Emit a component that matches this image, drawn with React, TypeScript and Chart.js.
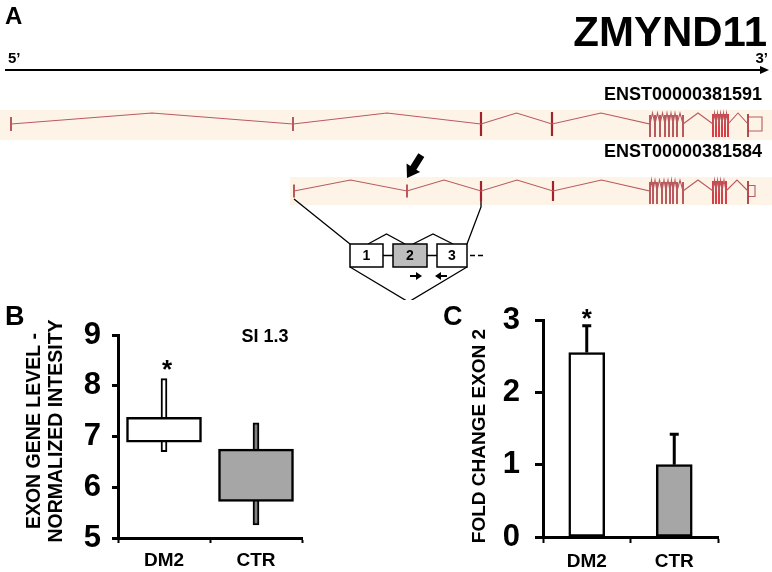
import React, { useEffect, useRef } from "react";
import { Chart, registerables } from "chart.js";

Chart.register(...registerables);

const FONT = "'Liberation Sans', Arial, Helvetica, sans-serif";
Chart.defaults.font.family = FONT;
Chart.defaults.color = "#000";

// ---------------- Panel A: ZMYND11 transcript models (locus coordinates, diagram units)
const geneName = "ZMYND11";
const transcriptIds = ["ENST00000381591", "ENST00000381584"];
const t1Exons = [11, 293, 481, 552, 650, 655, 660, 665, 669, 673, 677, 683, 713, 716, 719, 722, 725, 728, 748];
const t1End = 762;
const t2Exons = [294, 407, 481, 553, 650, 653, 657, 662, 666, 670, 673, 677, 683, 713, 716, 719, 722, 726, 748];
const t2End = 755;
const locusStart = 5;
const locusEnd = 769;
// exon 2 zoom inset
const insetExonLabels = ["1", "2", "3"];
const insetExonStart = [350, 393, 437];
const insetExonEnd = [383, 427, 467];
const targetExonIndex = 1;
const targetExonLocus = 407;

// ---------------- Panel B: exon-level intensity (box plot)
const categories = ["DM2", "CTR"];
const boxLower = [6.89, 5.72];
const boxUpper = [7.38, 6.75];
const whiskerLow = [6.7, 5.26];
const whiskerHigh = [8.14, 7.27];
const splicingIndex = "SI 1.3";
const yTitleB = ["EXON GENE LEVEL -", "NORMALIZED INTESITY"];

// ---------------- Panel C: qPCR fold change exon 2
const foldChange = [2.55, 1.0];
const foldChangeErr = [0.37, 0.42];
const yTitleC = "FOLD CHANGE EXON 2";
const significant = [true, false];

// ---------------- helpers
type P = { x: number; y: number | null };

function chevronPoints(exons: number[], base: number, rise: number): P[] {
  const pts: P[] = [];
  for (let i = 0; i < exons.length; i++) {
    pts.push({ x: exons[i], y: base });
    if (i < exons.length - 1) pts.push({ x: (exons[i] + exons[i + 1]) / 2, y: base - rise });
  }
  return pts;
}
function tickPoints(xs: number[], top: number, bottom: number): P[] {
  const pts: P[] = [];
  xs.forEach((x) => pts.push({ x, y: top }, { x, y: bottom }, { x, y: null }));
  return pts;
}
function segs(list: [number, number, number, number][]): P[] {
  const pts: P[] = [];
  list.forEach(([a, b, c, d]) => pts.push({ x: a, y: b }, { x: c, y: d }, { x: c, y: null }));
  return pts;
}
function lineDs(data: P[], color: string, width: number) {
  return {
    data,
    showLine: true,
    borderColor: color,
    backgroundColor: color,
    borderWidth: width,
    pointRadius: 0,
    spanGaps: false,
    clip: false as any,
    tension: 0,
  };
}

const INTRON = "#b95a60";
const EXON = "#a8343c";
const EXON_BRIGHT = "#d0202c";

function transcriptDatasets(exons: number[], end: number, base: number, small: number, med: number, boxHalf: number) {
  const smallEx = exons.filter((_, i) => i < 2);
  const medEx = exons.filter((_, i) => i >= 2 && i < 4);
  const cluster1 = exons.filter((x, i) => i >= 4 && x < 700);
  const cluster2 = exons.filter((x, i) => i >= 4 && x >= 700 && i < exons.length - 1);
  const last = exons[exons.length - 1];
  return [
    lineDs(chevronPoints(exons, base, 11), INTRON, 1.1),
    lineDs(tickPoints(smallEx, base - small, base + small), EXON, 1.6),
    lineDs(tickPoints(medEx, base - med, base + med), "#a0222c", 2.2),
    lineDs(tickPoints(cluster1, base - 9, base + 13), "#b0444c", 1.0),
    lineDs(tickPoints(cluster2, base - 10, base + 13), EXON_BRIGHT, 1.7),
    lineDs(tickPoints([last], base - 10, base + 13), EXON, 1.0),
    lineDs(
      [
        { x: last, y: base - boxHalf },
        { x: end, y: base - boxHalf },
        { x: end, y: base + boxHalf },
        { x: last, y: base + boxHalf },
      ],
      INTRON,
      1.1
    ),
  ];
}

const B1 = 124; // transcript rows
const B2 = 191;
const IT = 244; // inset top / bottom
const IB = 267;
const IM = (IT + IB) / 2;

function boldFont(size: number) {
  return `bold ${size}px ${FONT}`;
}

const panelAPlugin = {
  id: "panelA",
  beforeDatasetsDraw(chart: any) {
    const { ctx, scales } = chart;
    const X = (v: number) => scales.x.getPixelForValue(v);
    const Y = (v: number) => scales.y.getPixelForValue(v);
    ctx.save();
    ctx.fillStyle = "#fdf4e7";
    ctx.fillRect(X(0), Y(B1 - 14), X(772) - X(0), Y(B1 + 16) - Y(B1 - 14));
    ctx.fillRect(X(t2Exons[0] - 4), Y(B2 - 14), X(772) - X(t2Exons[0] - 4), Y(B2 + 14) - Y(B2 - 14));
    ctx.restore();
  },
  afterDatasetsDraw(chart: any) {
    const { ctx, scales } = chart;
    const X = (v: number) => scales.x.getPixelForValue(v);
    const Y = (v: number) => scales.y.getPixelForValue(v);
    ctx.save();
    // locus arrow head
    ctx.fillStyle = "#000";
    ctx.beginPath();
    ctx.moveTo(X(locusEnd), Y(70));
    ctx.lineTo(X(locusEnd - 9), Y(66));
    ctx.lineTo(X(locusEnd - 9), Y(74));
    ctx.closePath();
    ctx.fill();

    // inset exon boxes
    insetExonLabels.forEach((lab, i) => {
      const x0 = X(insetExonStart[i]);
      const x1 = X(insetExonEnd[i]);
      ctx.fillStyle = i === targetExonIndex ? "#bdbdbd" : "#ffffff";
      ctx.fillRect(x0, Y(IT), x1 - x0, Y(IB) - Y(IT));
      ctx.strokeStyle = "#000";
      ctx.lineWidth = 1.5;
      ctx.strokeRect(x0, Y(IT), x1 - x0, Y(IB) - Y(IT));
      ctx.fillStyle = "#000";
      ctx.font = boldFont(14);
      ctx.textAlign = "center";
      ctx.textBaseline = "middle";
      ctx.fillText(lab, (x0 + x1) / 2, Y(IM) + 1);
    });

    // primer arrows under exon 2 / exon 3
    const py = Y(IB + 9);
    const drawArrow = (from: number, to: number) => {
      const dir = Math.sign(to - from);
      ctx.strokeStyle = "#000";
      ctx.lineWidth = 2;
      ctx.beginPath();
      ctx.moveTo(X(from), py);
      ctx.lineTo(X(to - dir * 4), py);
      ctx.stroke();
      ctx.beginPath();
      ctx.moveTo(X(to), py);
      ctx.lineTo(X(to - dir * 6), py - 4);
      ctx.lineTo(X(to - dir * 6), py + 4);
      ctx.closePath();
      ctx.fill();
    };
    drawArrow(insetExonStart[1] + 17, insetExonStart[1] + 29);
    drawArrow(insetExonStart[2] + 10, insetExonStart[2] - 2);

    // pointer arrow onto exon 2 of the second transcript
    const tipX = X(targetExonLocus);
    const tipY = Y(B2 - 13);
    const dx = 0.53, dy = -0.85;
    const nx = 0.85, ny = 0.53;
    const headL = 12, headW = 8, shaftW = 3.5, shaftL = 27;
    ctx.fillStyle = "#000";
    ctx.beginPath();
    ctx.moveTo(tipX, tipY);
    ctx.lineTo(tipX + dx * headL + nx * headW, tipY + dy * headL + ny * headW);
    ctx.lineTo(tipX + dx * headL + nx * shaftW, tipY + dy * headL + ny * shaftW);
    ctx.lineTo(tipX + dx * shaftL + nx * shaftW, tipY + dy * shaftL + ny * shaftW);
    ctx.lineTo(tipX + dx * shaftL - nx * shaftW, tipY + dy * shaftL - ny * shaftW);
    ctx.lineTo(tipX + dx * headL - nx * shaftW, tipY + dy * headL - ny * shaftW);
    ctx.lineTo(tipX + dx * headL - nx * headW, tipY + dy * headL - ny * headW);
    ctx.closePath();
    ctx.fill();

    // texts
    ctx.fillStyle = "#000";
    ctx.textBaseline = "alphabetic";
    ctx.textAlign = "left";
    ctx.font = boldFont(24);
    ctx.fillText("A", 5, 24);
    ctx.textAlign = "right";
    ctx.font = boldFont(42);
    ctx.fillText(geneName, 767, 46);
    ctx.font = boldFont(15);
    ctx.textAlign = "left";
    ctx.fillText("5\u2019", 8, 63);
    ctx.textAlign = "right";
    ctx.fillText("3\u2019", 768, 63);
    ctx.font = boldFont(18);
    ctx.fillText(transcriptIds[0], 762, 100);
    ctx.fillText(transcriptIds[1], 762, 157);
    ctx.restore();
  },
};

const errorBarPlugin = {
  id: "errorBars",
  afterDatasetsDraw(chart: any) {
    const { ctx, scales } = chart;
    const meta = chart.getDatasetMeta(0);
    ctx.save();
    meta.data.forEach((bar: any, i: number) => {
      const top = scales.y.getPixelForValue(foldChange[i] + foldChangeErr[i]);
      ctx.strokeStyle = "#000";
      ctx.lineWidth = 3;
      ctx.beginPath();
      ctx.moveTo(bar.x, bar.y);
      ctx.lineTo(bar.x, top);
      ctx.moveTo(bar.x - 4.5, top);
      ctx.lineTo(bar.x + 4.5, top);
      ctx.stroke();
      if (significant[i]) {
        ctx.fillStyle = "#000";
        ctx.font = boldFont(26);
        ctx.textAlign = "center";
        ctx.textBaseline = "alphabetic";
        ctx.fillText("*", bar.x, top + 1);
      }
    });
    // texts
    ctx.fillStyle = "#000";
    ctx.font = boldFont(27);
    ctx.textAlign = "left";
    ctx.textBaseline = "alphabetic";
    ctx.fillText("C", 57, 25);
    ctx.font = boldFont(19);
    ctx.textAlign = "center";
    ctx.textBaseline = "middle";
    ctx.translate(94, 136);
    ctx.rotate(-Math.PI / 2);
    ctx.fillText(yTitleC, 0, 0);
    ctx.restore();
  },
};

const boxTextPlugin = {
  id: "boxText",
  afterDatasetsDraw(chart: any) {
    const { ctx, scales } = chart;
    const meta = chart.getDatasetMeta(1);
    ctx.save();
    meta.data.forEach((bar: any, i: number) => {
      if (!significant[i]) return;
      const top = scales.y.getPixelForValue(whiskerHigh[i]);
      ctx.fillStyle = "#000";
      ctx.font = boldFont(26);
      ctx.textAlign = "center";
      ctx.textBaseline = "alphabetic";
      ctx.fillText("*", bar.x + 3, top - 1);
    });
    ctx.fillStyle = "#000";
    ctx.font = boldFont(27);
    ctx.textAlign = "left";
    ctx.textBaseline = "alphabetic";
    ctx.fillText("B", 5, 25);
    ctx.font = boldFont(18);
    ctx.textAlign = "center";
    ctx.fillText(splicingIndex, 265, 42);
    ctx.font = boldFont(19.5);
    ctx.textBaseline = "middle";
    ctx.translate(0, 131);
    ctx.rotate(-Math.PI / 2);
    ctx.fillText(yTitleB[0], 0, 35);
    ctx.fillText(yTitleB[1], 0, 57);
    ctx.restore();
  },
};

function axisCommon(tickLen: number, tickWidth: number) {
  return {
    grid: {
      display: true,
      drawOnChartArea: false,
      drawTicks: true,
      tickLength: tickLen,
      tickWidth,
      tickColor: "#000",
      color: "#000",
    },
    border: { display: true, color: "#000", width: 3 },
  };
}

function fixedY(width: number) {
  return (s: any) => {
    s.width = width;
    s.paddingTop = 0;
    s.paddingBottom = 0;
  };
}

export default function App() {
  const refA = useRef<HTMLCanvasElement>(null);
  const refB = useRef<HTMLCanvasElement>(null);
  const refC = useRef<HTMLCanvasElement>(null);

  useEffect(() => {
    const charts: Chart[] = [];

    // ---------- Panel A
    const aDatasets: any[] = [
      lineDs([{ x: locusStart, y: 70 }, { x: locusEnd - 6, y: 70 }], "#000", 2),
      ...transcriptDatasets(t1Exons, t1End, B1, 7, 12, 7),
      ...transcriptDatasets(t2Exons, t2End, B2, 6.5, 10, 5.5),
      // connectors from transcript 2 to the inset
      lineDs(
        [
          { x: t2Exons[0], y: B2 + 8 },
          { x: insetExonStart[0], y: IT },
          { x: insetExonStart[0], y: null },
          { x: t2Exons[2], y: B2 + 9 },
          { x: t2Exons[2], y: B2 + 16 },
          { x: insetExonEnd[2], y: IT },
        ],
        "#000",
        1.3
      ),
      // inset introns and splice connections
      lineDs(
        segs([
          [insetExonEnd[0], IM, insetExonStart[1], IM],
          [insetExonEnd[1], IM, insetExonStart[2], IM],
          [insetExonEnd[2] + 3, IM, insetExonEnd[2] + 8, IM],
          [insetExonEnd[2] + 11, IM, insetExonEnd[2] + 16, IM],
        ]),
        "#000",
        1.3
      ),
      lineDs(
        [
          { x: insetExonEnd[0] - 15, y: IT },
          { x: (insetExonEnd[0] - 15 + insetExonStart[1] + 12) / 2, y: IT - 10 },
          { x: insetExonStart[1] + 12, y: IT },
          { x: insetExonStart[1] + 12, y: null },
          { x: insetExonEnd[1] - 14, y: IT },
          { x: (insetExonEnd[1] - 14 + insetExonStart[2] + 16) / 2, y: IT - 10 },
          { x: insetExonStart[2] + 16, y: IT },
          { x: insetExonStart[2] + 16, y: null },
          { x: insetExonStart[0], y: IB },
          { x: (insetExonStart[0] + insetExonEnd[2]) / 2, y: IB + 35 },
          { x: insetExonEnd[2], y: IB },
        ],
        "#000",
        1.3
      ),
    ];
    charts.push(
      new Chart(refA.current!, {
        type: "scatter",
        data: { datasets: aDatasets },
        options: {
          animation: false,
          responsive: false,
          maintainAspectRatio: false,
          layout: { padding: 0 },
          events: [],
          plugins: { legend: { display: false }, tooltip: { enabled: false } },
          scales: {
            x: { type: "linear", min: 0, max: 772, display: false },
            y: { type: "linear", min: 0, max: 300, reverse: true, display: false },
          },
        },
        plugins: [panelAPlugin],
      } as any)
    );

    // ---------- Panel B
    charts.push(
      new Chart(refB.current!, {
        type: "bar",
        data: {
          labels: categories,
          datasets: [
            {
              data: categories.map((_, i) => [boxLower[i], boxUpper[i]]),
              backgroundColor: ["#ffffff", "#a6a6a6"],
              borderColor: "#000",
              borderWidth: 2.5,
              borderSkipped: false,
              barThickness: 75,
              grouped: false,
              order: 0,
            },
            {
              data: categories.map((_, i) => [whiskerLow[i], whiskerHigh[i]]),
              backgroundColor: ["#ffffff", "#808080"],
              borderColor: "#000",
              borderWidth: 2,
              borderSkipped: false,
              barThickness: 6,
              grouped: false,
              order: 1,
            },
          ],
        },
        options: {
          animation: false,
          responsive: false,
          maintainAspectRatio: false,
          events: [],
          layout: { padding: { left: 0, top: 35, right: 84, bottom: 0 } },
          plugins: { legend: { display: false }, tooltip: { enabled: false } },
          scales: {
            x: {
              ...axisCommon(5, 2),
              grid: { ...axisCommon(5, 2).grid, offset: true },
              ticks: { color: "#000", font: { family: FONT, size: 19, weight: "bold" }, padding: 6 },
              afterFit: (s: any) => {
                s.height = 34;
              },
            },
            y: {
              ...axisCommon(6, 3),
              min: 5,
              max: 9,
              ticks: { stepSize: 1, color: "#000", font: { family: FONT, size: 31, weight: "bold" }, padding: 11 },
              afterFit: fixedY(118),
            },
          },
        },
        plugins: [boxTextPlugin],
      } as any)
    );

    // ---------- Panel C
    charts.push(
      new Chart(refC.current!, {
        type: "bar",
        data: {
          labels: categories,
          datasets: [
            {
              data: foldChange,
              backgroundColor: ["#ffffff", "#a6a6a6"],
              borderColor: "#000",
              borderWidth: 2.5,
              borderSkipped: false,
              barThickness: 36,
            },
          ],
        },
        options: {
          animation: false,
          responsive: false,
          maintainAspectRatio: false,
          events: [],
          layout: { padding: { left: 0, top: 20, right: 54, bottom: 0 } },
          plugins: { legend: { display: false }, tooltip: { enabled: false } },
          scales: {
            x: {
              ...axisCommon(6, 2),
              grid: { ...axisCommon(6, 2).grid, offset: true },
              ticks: { color: "#000", font: { family: FONT, size: 19, weight: "bold" }, padding: 7 },
              afterFit: (s: any) => {
                s.height = 35;
              },
            },
            y: {
              ...axisCommon(8, 3),
              min: 0,
              max: 3,
              ticks: { stepSize: 1, color: "#000", font: { family: FONT, size: 31, weight: "bold" }, padding: 15 },
              afterFit: fixedY(157),
            },
          },
        },
        plugins: [errorBarPlugin],
      } as any)
    );

    return () => charts.forEach((c) => c.destroy());
  }, []);

  return (
    <div style={{ position: "fixed", left: 0, top: 0, width: 772, height: 572, background: "#fff" }}>
      <canvas ref={refA} width={772} height={300} style={{ position: "absolute", left: 0, top: 0, width: 772, height: 300 }} />
      <canvas ref={refB} width={386} height={272} style={{ position: "absolute", left: 0, top: 300, width: 386, height: 272 }} />
      <canvas ref={refC} width={386} height={272} style={{ position: "absolute", left: 386, top: 300, width: 386, height: 272 }} />
    </div>
  );
}
